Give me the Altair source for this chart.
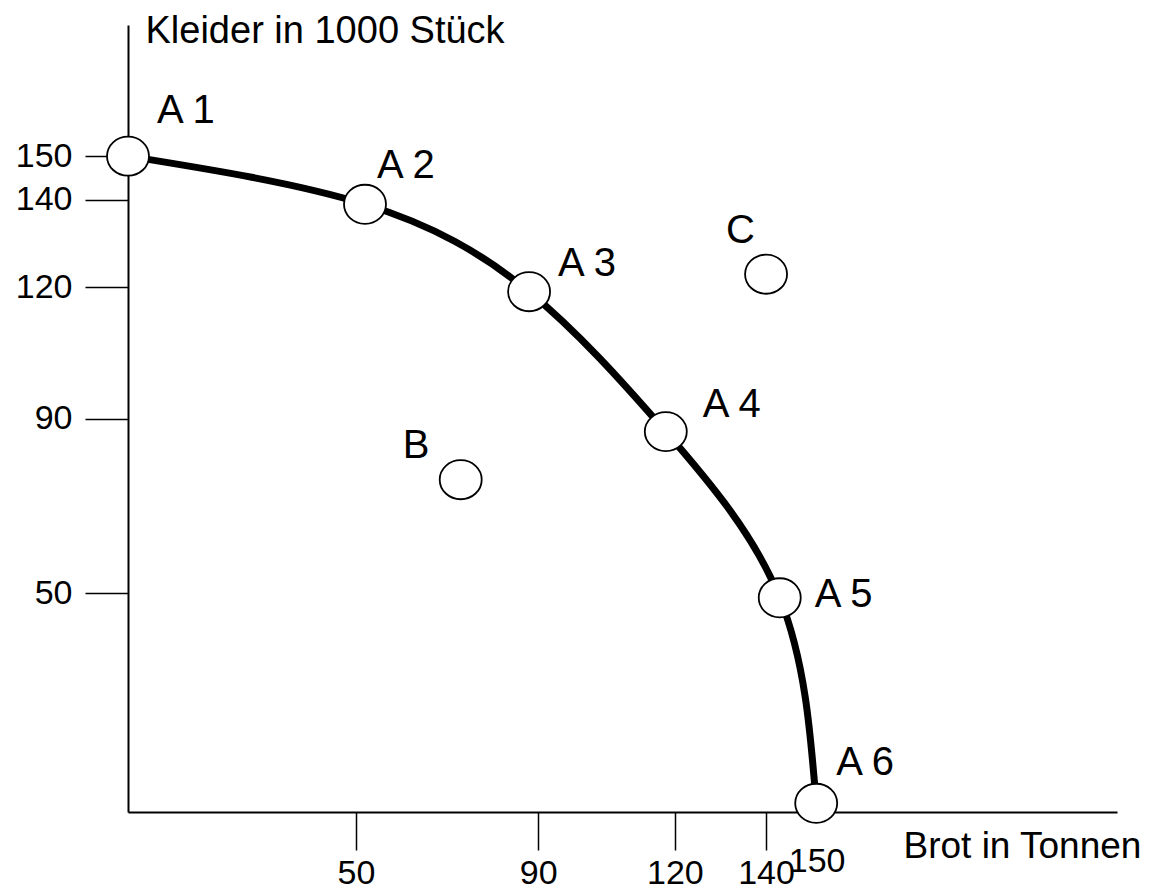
import altair as alt
import pandas as pd

# ---- data ----
point_names = ["A 1", "A 2", "A 3", "A 4", "A 5", "A 6", "B", "C"]
brot = [0, 52, 88, 118, 143, 151, 73, 140]          # x: Brot in Tonnen
kleider = [150, 139, 119, 87, 49, 2, 76, 123]       # y: Kleider in 1000 Stück
on_frontier = [True, True, True, True, True, True, False, False]

x_tick_values = [50, 90, 120, 140, 150]
y_tick_values = [50, 90, 120, 140, 150]

x_title = "Brot in Tonnen"
y_title = "Kleider in 1000 Stück"

# ---- styles (pixel offsets of the point labels) ----
label_offsets = {
    "A 1": (29, -33), "A 2": (12, -26), "A 3": (29, -16), "A 4": (37, -15),
    "A 5": (35, 9), "A 6": (20, -28), "B": (-58, -22), "C": (-40, -31),
}

FONT = "Liberation Sans"
df = pd.DataFrame({"name": point_names, "x": brot, "y": kleider, "frontier": on_frontier})
frontier_df = df[df["frontier"]]

x_scale = alt.Scale(domain=[0, 217], nice=False, zero=False)
y_scale = alt.Scale(domain=[0, 180], nice=False, zero=False)

x_axis = alt.Axis(
    values=x_tick_values, grid=False, domainColor="black", domainWidth=2,
    tickColor="black", tickWidth=1.5, tickSize=38,
    tickOpacity={"condition": {"test": "datum.value == 150", "value": 0}, "value": 1},
    labelPadding={"condition": {"test": "datum.value == 150", "value": -6}, "value": 6},
    labelOffset={"condition": {"test": "datum.value == 150", "value": 5}, "value": 0},
    labelFont=FONT, labelFontSize=34, labelColor="black", labelOverlap=False, labelFlush=False,
    title=x_title, titleFont=FONT, titleFontSize=37, titleFontWeight="normal", titleColor="black",
    titleAngle=0, titleAlign="left", titleBaseline="alphabetic", titleX=775, titleY=45,
)
y_axis = alt.Axis(
    values=y_tick_values, grid=False, domainColor="black", domainWidth=2,
    tickColor="black", tickWidth=1.5, tickSize=43,
    labelFont=FONT, labelFontSize=34, labelColor="black", labelPadding=13,
    labelOverlap=False, labelFlush=False,
    title=y_title, titleFont=FONT, titleFontSize=38, titleFontWeight="normal", titleColor="black",
    titleAngle=0, titleAlign="left", titleBaseline="alphabetic", titleX=17, titleY=17,
)

X = alt.X("x:Q", scale=x_scale, axis=x_axis)
Y = alt.Y("y:Q", scale=y_scale, axis=y_axis)

curve = alt.Chart(frontier_df).mark_line(
    color="black", strokeWidth=7, interpolate="natural"
).encode(x=X, y=Y, order="x:Q")

ellipse = "M -1 0 A 1 0.93 0 1 0 1 0 A 1 0.93 0 1 0 -1 0 Z"
points = alt.Chart(df).mark_point(
    shape=ellipse, size=1764, filled=True, fill="white", stroke="black",
    strokeWidth=1.8, opacity=1,
).encode(x=alt.X("x:Q"), y=alt.Y("y:Q"))

labels = []
for name in point_names:
    dx, dy = label_offsets[name]
    labels.append(
        alt.Chart(df[df["name"] == name]).mark_text(
            align="left", baseline="alphabetic", dx=dx, dy=dy,
            font=FONT, fontSize=40, color="black",
        ).encode(x=alt.X("x:Q"), y=alt.Y("y:Q"), text="name:N")
    )

chart = alt.layer(curve, points, *labels).properties(
    width=989, height=787,
    autosize=alt.AutoSizeParams(type="none"),
    padding={"left": 120, "top": 17, "right": 30, "bottom": 79},
    background="white",
).configure_view(stroke=None)

chart.save("out.html", embed_options={"renderer": "svg", "actions": False})
